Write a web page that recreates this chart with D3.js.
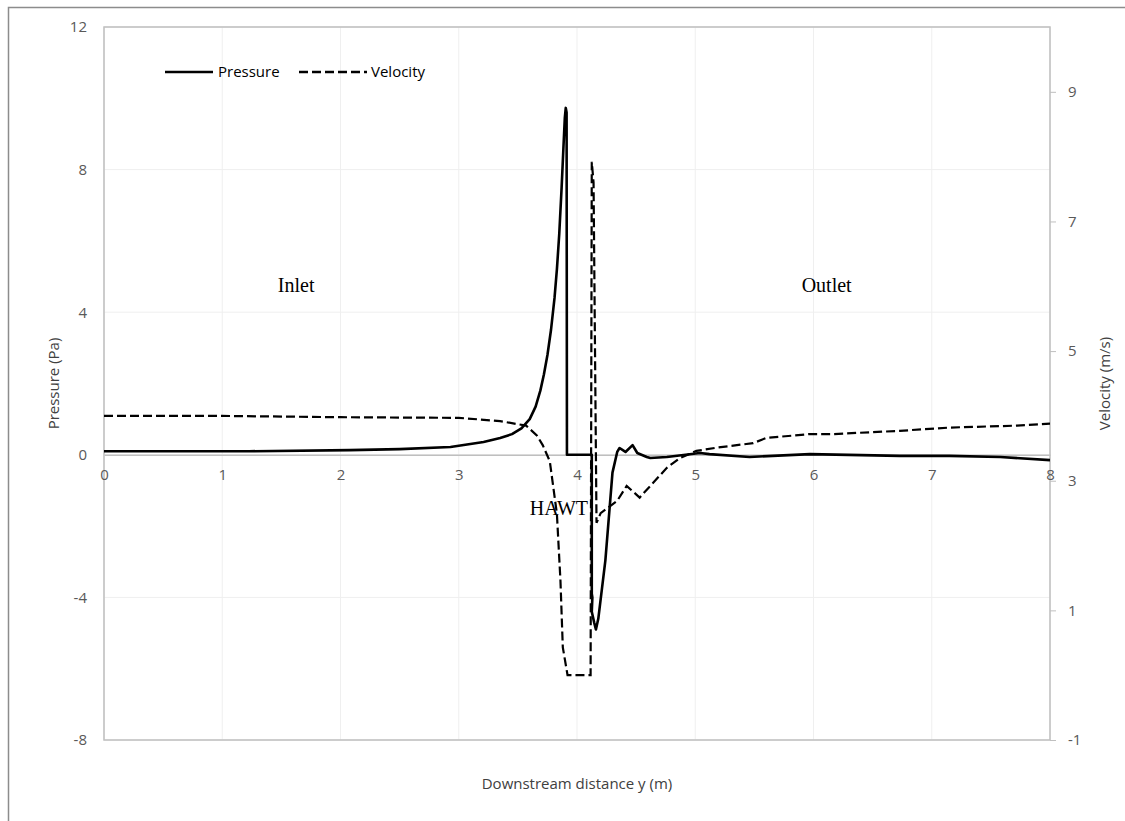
<!DOCTYPE html>
<html>
<head>
<meta charset="utf-8">
<script src="https://cdn.jsdelivr.net/npm/d3@7"></script>
<style>
    body { margin: 0; background: #fff; }
    text { font-family: 'Open Sans', sans-serif; }
    .note { font-family: 'Liberation Serif', 'Times New Roman', serif; font-size: 20px; fill: #000; }
</style>
</head>
<body>
<div id="chart"></div>
<script>
'use strict';

// ------------ DATA ---------------- //

const pressureX = [0, 1, 1.23, 2.08, 2.5, 2.93, 3.21, 3.35, 3.45, 3.53, 3.6, 3.65, 3.69, 3.72, 3.75, 3.78, 3.81, 3.83,
    3.85, 3.87, 3.885, 3.897, 3.905, 3.912, 3.915, 4.125, 4.125, 4.13, 4.125, 4.145, 4.16, 4.18, 4.24, 4.30, 4.34,
    4.36, 4.41, 4.47, 4.51, 4.59, 4.62, 4.76, 5.04, 5.12, 5.46, 5.97, 6.73, 7.15, 7.58, 8];
const pressureY = [0.1, 0.1, 0.1, 0.13, 0.16, 0.22, 0.36, 0.47, 0.58, 0.74, 1.0, 1.35, 1.8, 2.25, 2.8, 3.5, 4.4, 5.2,
    6.2, 7.5, 8.6, 9.45, 9.73, 9.6, 0, 0, -3.9, -4.0, -4.4, -4.7, -4.9, -4.6, -2.96, -0.5, 0.08,
    0.19, 0.08, 0.27, 0.05, -0.06, -0.09, -0.06, 0.05, 0.02, -0.06, 0.02, -0.03, -0.03, -0.06, -0.15];

const velocityX = [0, 1, 2, 3, 3.35, 3.57, 3.66, 3.71, 3.77, 3.83, 3.86, 3.88, 3.92, 4.115, 4.125, 4.14, 4.165, 4.2,
    4.34, 4.42, 4.53, 4.62, 4.76, 4.87, 5.01, 5.18, 5.49, 5.6, 5.97, 6.17, 6.73, 7.15, 7.72, 8];
const velocityY = [4.0, 4.0, 3.98, 3.97, 3.92, 3.85, 3.7, 3.55, 3.3, 2.49, 1.46, 0.43, 0, 0, 7.92, 7.6, 2.35, 2.5,
    2.69, 2.92, 2.74, 2.92, 3.2, 3.35, 3.46, 3.51, 3.58, 3.66, 3.72, 3.72, 3.77, 3.82, 3.85, 3.88];

const xTicks        = [0, 1, 2, 3, 4, 5, 6, 7, 8];
const pressureTicks = [-8, -4, 0, 4, 8, 12];
const velocityTicks = [-1, 1, 3, 5, 7, 9];

const legendNames = ['Pressure', 'Velocity'];
const notes       = [{label: 'Inlet', x: 1.47, y: 4.57}, {label: 'Outlet', x: 5.9, y: 4.57}, {label: 'HAWT', x: 3.6, y: -1.7}];

// ------------ LAYOUT ---------------- //

const WIDTH  = 1125;
const HEIGHT = 821;
const PLOT   = {left: 104, right: 1050, top: 27, bottom: 740};
const DASH   = '9,4';

// plain hyphen minus like the original labels
const fmt = d => String(d);

// ---------------  DRAWING ------------- //

const drawChart = () => {
    const svg = d3.select('#chart')
        .append('svg')
        .attr('width', WIDTH)
        .attr('height', HEIGHT);

    svg.append('rect').attr('width', WIDTH).attr('height', HEIGHT).attr('fill', '#fff');
    svg.append('rect')
        .attr('x', 8.5).attr('y', 7.5)
        .attr('width', WIDTH).attr('height', HEIGHT)
        .attr('fill', 'none').attr('stroke', '#8c8c8c').attr('stroke-width', 1.5);

    const x  = d3.scaleLinear().domain([0, 8]).range([PLOT.left, PLOT.right]);
    const yP = d3.scaleLinear().domain([-8, 12]).range([PLOT.bottom, PLOT.top]);
    const yV = d3.scaleLinear().domain([-1, 10]).range([PLOT.bottom, PLOT.top]);

    // gridlines
    svg.append('g').selectAll('line')
        .data(xTicks)
        .join('line')
        .attr('x1', d => x(d)).attr('x2', d => x(d))
        .attr('y1', PLOT.top).attr('y2', PLOT.bottom)
        .attr('stroke', '#efefef').attr('stroke-width', 1);

    svg.append('g').selectAll('line')
        .data(pressureTicks)
        .join('line')
        .attr('x1', PLOT.left).attr('x2', PLOT.right)
        .attr('y1', d => yP(d)).attr('y2', d => yP(d))
        .attr('stroke', '#efefef').attr('stroke-width', 1);

    // plot frame
    svg.append('rect')
        .attr('x', PLOT.left).attr('y', PLOT.top)
        .attr('width', PLOT.right - PLOT.left).attr('height', PLOT.bottom - PLOT.top)
        .attr('fill', 'none').attr('stroke', '#bfbfbf').attr('stroke-width', 1.5);

    // x axis crossing at zero pressure
    const xAxis = svg.append('g')
        .attr('transform', `translate(0,${yP(0)})`)
        .call(d3.axisBottom(x).tickValues(xTicks).tickSize(0).tickPadding(15).tickFormat(fmt));
    xAxis.select('.domain').attr('stroke', '#bfbfbf').attr('stroke-width', 1.5);

    const leftAxis = svg.append('g')
        .attr('transform', `translate(${PLOT.left},0)`)
        .call(d3.axisLeft(yP).tickValues(pressureTicks).tickSize(0).tickPadding(17).tickFormat(fmt));
    leftAxis.select('.domain').remove();

    const rightAxis = svg.append('g')
        .attr('transform', `translate(${PLOT.right},0)`)
        .call(d3.axisRight(yV).tickValues(velocityTicks).tickSize(6).tickPadding(12).tickFormat(fmt));
    rightAxis.select('.domain').remove();
    rightAxis.selectAll('line').attr('stroke', '#bfbfbf');

    svg.selectAll('.tick text')
        .attr('fill', '#595959')
        .style('font-size', '15px')
        .style('font-family', "'Open Sans', sans-serif");

    // axis titles
    svg.append('text')
        .attr('x', (PLOT.left + PLOT.right) / 2).attr('y', 789)
        .attr('text-anchor', 'middle').attr('fill', '#404040').style('font-size', '15px')
        .text('Downstream distance y (m)');

    svg.append('text')
        .attr('transform', `translate(59,${(PLOT.top + PLOT.bottom) / 2}) rotate(-90)`)
        .attr('text-anchor', 'middle').attr('fill', '#404040').style('font-size', '15px')
        .text('Pressure (Pa)');

    svg.append('text')
        .attr('transform', `translate(1110,${(PLOT.top + PLOT.bottom) / 2}) rotate(-90)`)
        .attr('text-anchor', 'middle').attr('fill', '#404040').style('font-size', '15px')
        .text('Velocity (m/s)');

    // series
    const pressurePts = pressureX.map((d, i) => [d, pressureY[i]]);
    const velocityPts = velocityX.map((d, i) => [d, velocityY[i]]);

    svg.append('path')
        .datum(velocityPts)
        .attr('fill', 'none').attr('stroke', '#000').attr('stroke-width', 2.2)
        .attr('stroke-dasharray', DASH)
        .attr('d', d3.line().x(d => x(d[0])).y(d => yV(d[1])));

    svg.append('path')
        .datum(pressurePts)
        .attr('fill', 'none').attr('stroke', '#000').attr('stroke-width', 2.6)
        .attr('stroke-linejoin', 'round')
        .attr('d', d3.line().x(d => x(d[0])).y(d => yP(d[1])));

    // annotations
    svg.append('g').selectAll('text')
        .data(notes)
        .join('text')
        .attr('class', 'note')
        .attr('x', d => x(d.x)).attr('y', d => yP(d.y))
        .text(d => d.label);

    // legend
    const legend = svg.append('g').attr('transform', 'translate(165,72)');
    const items  = legend.selectAll('g')
        .data(legendNames)
        .join('g')
        .attr('transform', (d, i) => `translate(${i * 134},0)`);

    items.append('line')
        .attr('x1', 0).attr('x2', (d, i) => i ? 68 : 48)
        .attr('stroke', '#000').attr('stroke-width', 2.4)
        .attr('stroke-dasharray', (d, i) => i ? DASH : null);

    items.append('text')
        .attr('x', (d, i) => i ? 72 : 53).attr('y', 5)
        .attr('fill', '#000').style('font-size', '15px')
        .text(d => d);
};

// --------------------   MAIN   ------------------- //

document.addEventListener('DOMContentLoaded', drawChart);
</script>
</body>
</html>
